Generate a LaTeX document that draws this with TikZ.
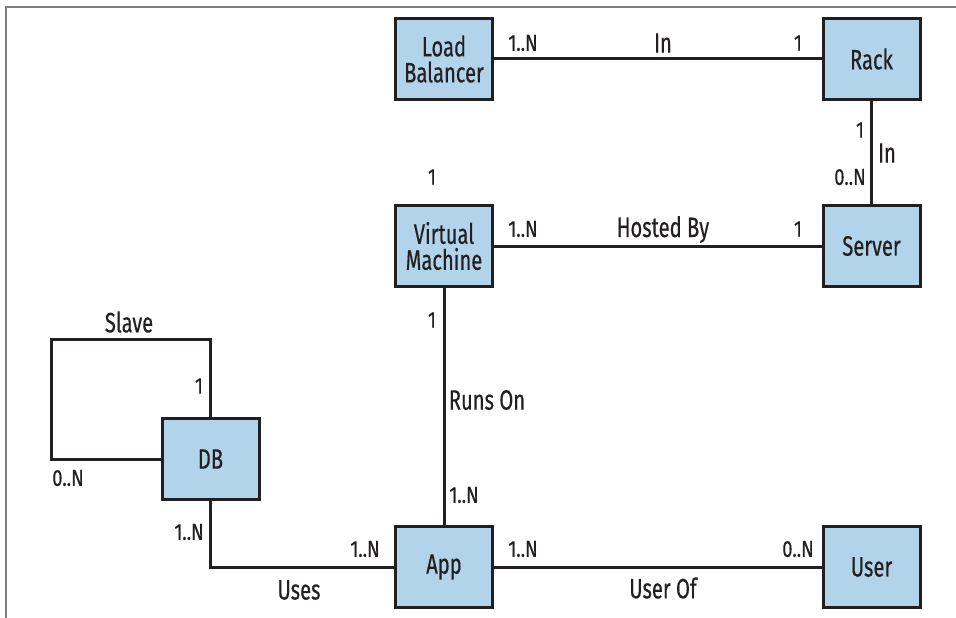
\documentclass[tikz,border=0pt]{standalone}
\usepackage{fontspec}
\setmainfont[FakeStretch=0.72,FakeBold=0.4]{Fira Sans}
\newfontfamily\multfont[FakeStretch=0.8,FakeBold=0.3]{Fira Sans}
\definecolor{boxfill}{RGB}{178,212,235}
\definecolor{ink}{RGB}{35,31,32}
\definecolor{framegray}{RGB}{125,125,125}
\begin{document}
\begin{tikzpicture}[x=1pt,y=-1pt,
  entity/.style={draw=ink,fill=boxfill,line width=3pt,minimum width=97pt,minimum height=81pt,inner sep=0pt,outer sep=0pt,align=center,text=ink,font=\fontsize{28}{26}\selectfont},
  conn/.style={draw=ink,line width=3pt},
  mult/.style={text=ink,inner sep=0pt,font=\multfont\fontsize{23}{24}\selectfont},
  rel/.style={text=ink,inner sep=0pt,font=\fontsize{28}{28}\selectfont}]
\useasboundingbox (0,0) rectangle (956,618);
\draw[framegray,line width=1.5pt] (6,618) -- (6,7) -- (956,7);
% entities
\node[entity] (lb) at (444,59) {Load\\Balancer};
\node[entity] (rack) at (871.5,59) {Rack};
\node[entity] (vm) at (444,246) {Virtual\\Machine};
\node[entity] (server) at (871.5,246) {Server};
\node[entity] (db) at (210.5,459) {DB};
\node[entity] (app) at (444,567) {App};
\node[entity] (user) at (871.5,567) {User};
\coordinate (loopA) at (51,339);
% connectors
\draw[conn] (lb) -- (rack);
\draw[conn] (rack) -- (server);
\draw[conn] (vm) -- (server);
\draw[conn] (vm) -- (app);
\draw[conn] (app) -- (user);
\draw[conn] (db.north) |- (loopA) |- (db.west);
\draw[conn] (db.south) |- (app.west);
% labels
\node[mult] (m1) at (523,43) {1..N};
\node[rel] (r1) at (663,43) {In};
\node[mult] (m2) at (798,43) {1};
\node[mult] (m3) at (860,130) {1};
\node[rel] (r2) at (887,153) {In};
\node[mult] (m4) at (850,177) {0..N};
\node[mult] (m5) at (432,177) {1};
\node[mult] (m6) at (523,229) {1..N};
\node[rel,anchor=base] (r3) at (663,237) {Hosted By};
\node[mult] (m7) at (798,229) {1};
\node[rel] (r4) at (129,322) {Slave};
\node[mult] (m8) at (199,386) {1};
\node[mult] (m9) at (68,478) {0..N};
\node[mult] (m10) at (432,320) {1};
\node[rel] (r5) at (487,400) {Runs On};
\node[mult] (m11) at (464,495) {1..N};
\node[mult] (m12) at (189,532) {1..N};
\node[mult] (m13) at (365,549) {1..N};
\node[rel] (r6) at (299,590) {Uses};
\node[mult] (m14) at (523,549) {1..N};
\node[rel] (r7) at (663,588) {User Of};
\node[mult] (m15) at (798,549) {0..N};
\end{tikzpicture}
\end{document}
